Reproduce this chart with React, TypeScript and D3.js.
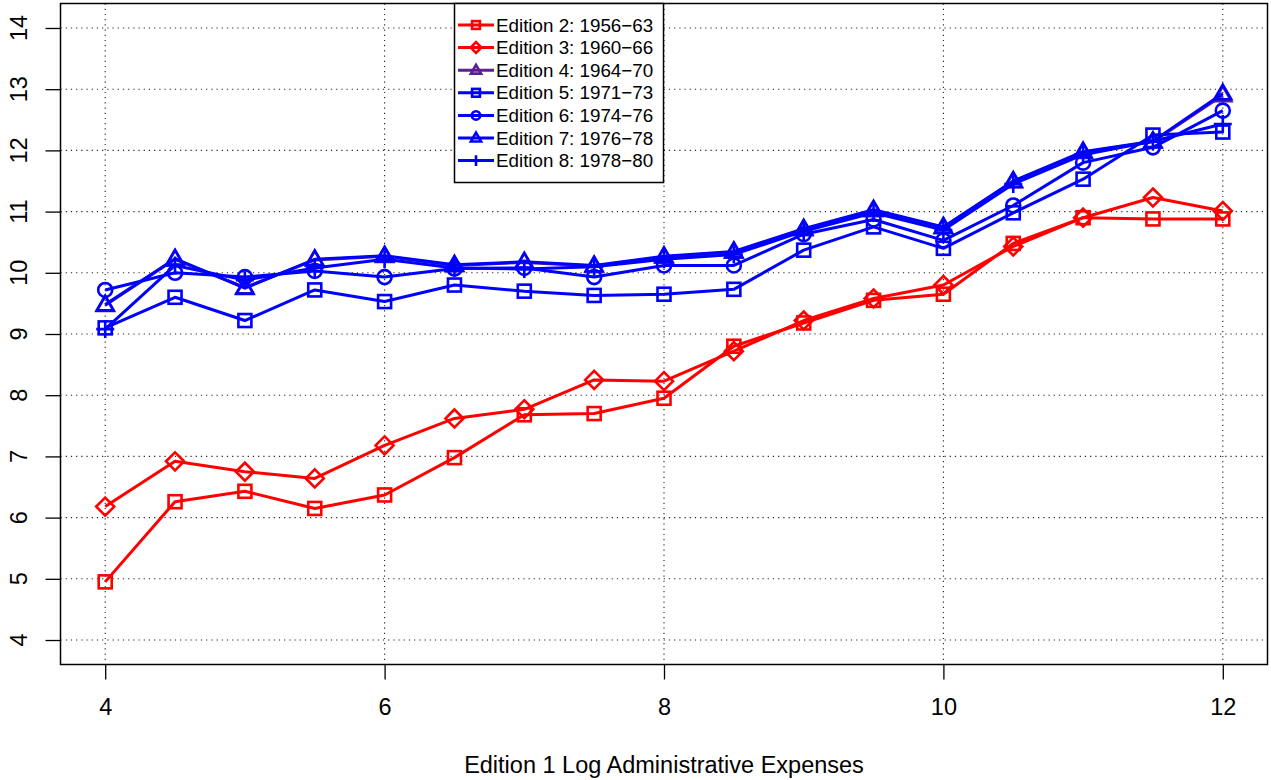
import React, { useEffect, useRef } from 'react';
import * as d3 from 'd3';

const xValues = [4, 4.5, 5, 5.5, 6, 6.5, 7, 7.5, 8, 8.5, 9, 9.5, 10, 10.5, 11, 11.5, 12];

const ed2 = [4.95, 6.26, 6.43, 6.15, 6.37, 6.98, 7.68, 7.7, 7.95, 8.8, 9.18, 9.55, 9.65, 10.48, 10.9, 10.88, 10.88];
const ed3 = [6.18, 6.92, 6.75, 6.64, 7.18, 7.62, 7.77, 8.25, 8.23, 8.72, 9.22, 9.58, 9.8, 10.43, 10.9, 11.23, 11.01];
const ed4 = [9.47, 10.22, 9.76, 10.21, 10.27, 10.12, 10.17, 10.11, 10.26, 10.34, 10.71, 11.02, 10.74, 11.49, 11.97, 12.14, 12.9];
const ed5 = [9.1, 9.6, 9.22, 9.72, 9.53, 9.8, 9.7, 9.63, 9.65, 9.73, 10.37, 10.75, 10.4, 10.98, 11.53, 12.25, 12.3];
const ed6 = [9.72, 10.0, 9.93, 10.03, 9.93, 10.07, 10.08, 9.93, 10.12, 10.12, 10.63, 10.87, 10.53, 11.1, 11.8, 12.05, 12.65];
const ed7 = [9.48, 10.23, 9.75, 10.22, 10.28, 10.13, 10.18, 10.12, 10.27, 10.35, 10.72, 11.03, 10.75, 11.5, 11.98, 12.15, 12.93];
const ed8 = [9.08, 10.12, 9.88, 10.08, 10.22, 10.08, 10.06, 10.1, 10.22, 10.3, 10.68, 10.98, 10.7, 11.45, 11.93, 12.15, 12.43];

const seriesNames = [
  'Edition 2: 1956\u221263',
  'Edition 3: 1960\u221266',
  'Edition 4: 1964\u221270',
  'Edition 5: 1971\u221273',
  'Edition 6: 1974\u221276',
  'Edition 7: 1976\u221278',
  'Edition 8: 1978\u221280',
];
const seriesColors = ['#ff0000', '#ff0000', '#5b1f91', '#0000ff', '#0000ff', '#0000ff', '#0000ff'];
const seriesShapes = ['square', 'diamond', 'triangle', 'square', 'circle', 'triangle', 'plus'];
const seriesValues = [ed2, ed3, ed4, ed5, ed6, ed7, ed8];

const xTicks = [4, 6, 8, 10, 12];
const yTicks = [4, 5, 6, 7, 8, 9, 10, 11, 12, 13, 14];

const W = 1271;
const H = 780;

function drawMarker(g: any, shape: string, x: number, y: number, color: string, s = 1) {
  const sw = 2.6;
  if (shape === 'square') {
    const h = 6.5 * s;
    g.append('rect').attr('x', x - h).attr('y', y - h).attr('width', 2 * h).attr('height', 2 * h)
      .attr('fill', 'none').attr('stroke', color).attr('stroke-width', sw);
  } else if (shape === 'diamond') {
    const h = 9 * s;
    g.append('path').attr('d', `M${x},${y - h}L${x + h},${y}L${x},${y + h}L${x - h},${y}Z`)
      .attr('fill', 'none').attr('stroke', color).attr('stroke-width', sw);
  } else if (shape === 'triangle') {
    const r = 8.5 * s;
    const p = d3.path();
    p.moveTo(x, y - r * 1.05);
    p.lineTo(x + r, y + r * 0.68);
    p.lineTo(x - r, y + r * 0.68);
    p.closePath();
    g.append('path').attr('d', p.toString())
      .attr('fill', 'none').attr('stroke', color).attr('stroke-width', sw);
  } else if (shape === 'circle') {
    g.append('circle').attr('cx', x).attr('cy', y).attr('r', 7 * s)
      .attr('fill', 'none').attr('stroke', color).attr('stroke-width', sw);
  } else if (shape === 'plus') {
    const h = 9 * s;
    g.append('path').attr('d', `M${x - h},${y}H${x + h}M${x},${y - h}V${y + h}`)
      .attr('fill', 'none').attr('stroke', color).attr('stroke-width', sw);
  }
}

const App = () => {
  const ref = useRef<SVGSVGElement>(null);

  useEffect(() => {
    const svg = d3.select(ref.current);
    svg.selectAll('*').remove();

    const left = 60.5;
    const right = 1267.5;
    const top = 3.5;
    const bottom = 664.5;

    const x = d3.scaleLinear().domain([3.68, 12.32]).range([left, right]);
    const y = d3.scaleLinear().domain([3.6, 14.4]).range([bottom, top]);

    const font = '"Liberation Sans", Arial, Helvetica, sans-serif';

    // grid
    const grid = svg.append('g');
    xTicks.forEach((t) => {
      grid.append('line').attr('x1', x(t)).attr('x2', x(t)).attr('y1', top).attr('y2', bottom)
        .attr('stroke', '#222').attr('stroke-width', 1.1).attr('stroke-dasharray', '1.2,4');
    });
    yTicks.forEach((t) => {
      grid.append('line').attr('x1', left).attr('x2', right).attr('y1', y(t)).attr('y2', y(t))
        .attr('stroke', '#222').attr('stroke-width', 1.1).attr('stroke-dasharray', '1.2,4');
    });

    // axes
    const xAxis = d3.axisBottom(x).tickValues(xTicks).tickSize(15).tickPadding(19).tickFormat(d3.format('d'));
    const gx = svg.append('g').attr('transform', `translate(0,${bottom})`).call(xAxis);
    gx.select('.domain').remove();
    gx.selectAll('line').attr('stroke', '#000').attr('stroke-width', 1.3);
    gx.selectAll('text').attr('font-family', font).attr('font-size', 23.5).attr('fill', '#000');

    const yAxis = d3.axisLeft(y).tickValues(yTicks).tickSize(15).tickFormat(d3.format('d'));
    const gy = svg.append('g').attr('transform', `translate(${left},0)`).call(yAxis);
    gy.select('.domain').remove();
    gy.selectAll('line').attr('stroke', '#000').attr('stroke-width', 1.3);
    gy.selectAll('text').remove();
    yTicks.forEach((t) => {
      svg.append('text').attr('transform', `translate(27,${y(t)}) rotate(-90)`)
        .attr('text-anchor', 'middle').attr('font-family', font).attr('font-size', 23.5)
        .attr('fill', '#000').text(String(t));
    });

    // series
    const line = d3.line<number>().x((_, i) => x(xValues[i])).y((d) => y(d));
    seriesValues.forEach((vals, k) => {
      const g = svg.append('g');
      g.append('path').attr('d', line(vals) as string).attr('fill', 'none')
        .attr('stroke', seriesColors[k]).attr('stroke-width', 3).attr('stroke-linejoin', 'round');
      vals.forEach((v, i) => drawMarker(g, seriesShapes[k], x(xValues[i]), y(v), seriesColors[k]));
    });

    // box
    svg.append('rect').attr('x', left).attr('y', top).attr('width', right - left).attr('height', bottom - top)
      .attr('fill', 'none').attr('stroke', '#000').attr('stroke-width', 1.5);

    // legend
    const lx = 454.5;
    const ly = 3.5;
    const lg = svg.append('g');
    lg.append('rect').attr('x', lx).attr('y', ly).attr('width', 209).attr('height', 179)
      .attr('fill', '#fff').attr('stroke', '#000').attr('stroke-width', 1.5);
    seriesNames.forEach((name, k) => {
      const yy = 25 + k * 22.6;
      lg.append('line').attr('x1', 458).attr('x2', 494).attr('y1', yy).attr('y2', yy)
        .attr('stroke', seriesColors[k]).attr('stroke-width', 3);
      drawMarker(lg, seriesShapes[k], 476, yy, seriesColors[k], 0.6);
      lg.append('text').attr('x', 496).attr('y', yy + 6.5).attr('font-family', font)
        .attr('font-size', 18.8).attr('fill', '#000').text(name);
    });

    // x label
    svg.append('text').attr('x', (left + right) / 2).attr('y', 773).attr('text-anchor', 'middle')
      .attr('font-family', font).attr('font-size', 23.5).attr('fill', '#000')
      .text('Edition 1 Log Administrative Expenses');
  }, []);

  return (
    <svg ref={ref} width={W} height={H} style={{ position: 'absolute', left: 0, top: 0, background: '#fff' }} />
  );
};

export default App;
